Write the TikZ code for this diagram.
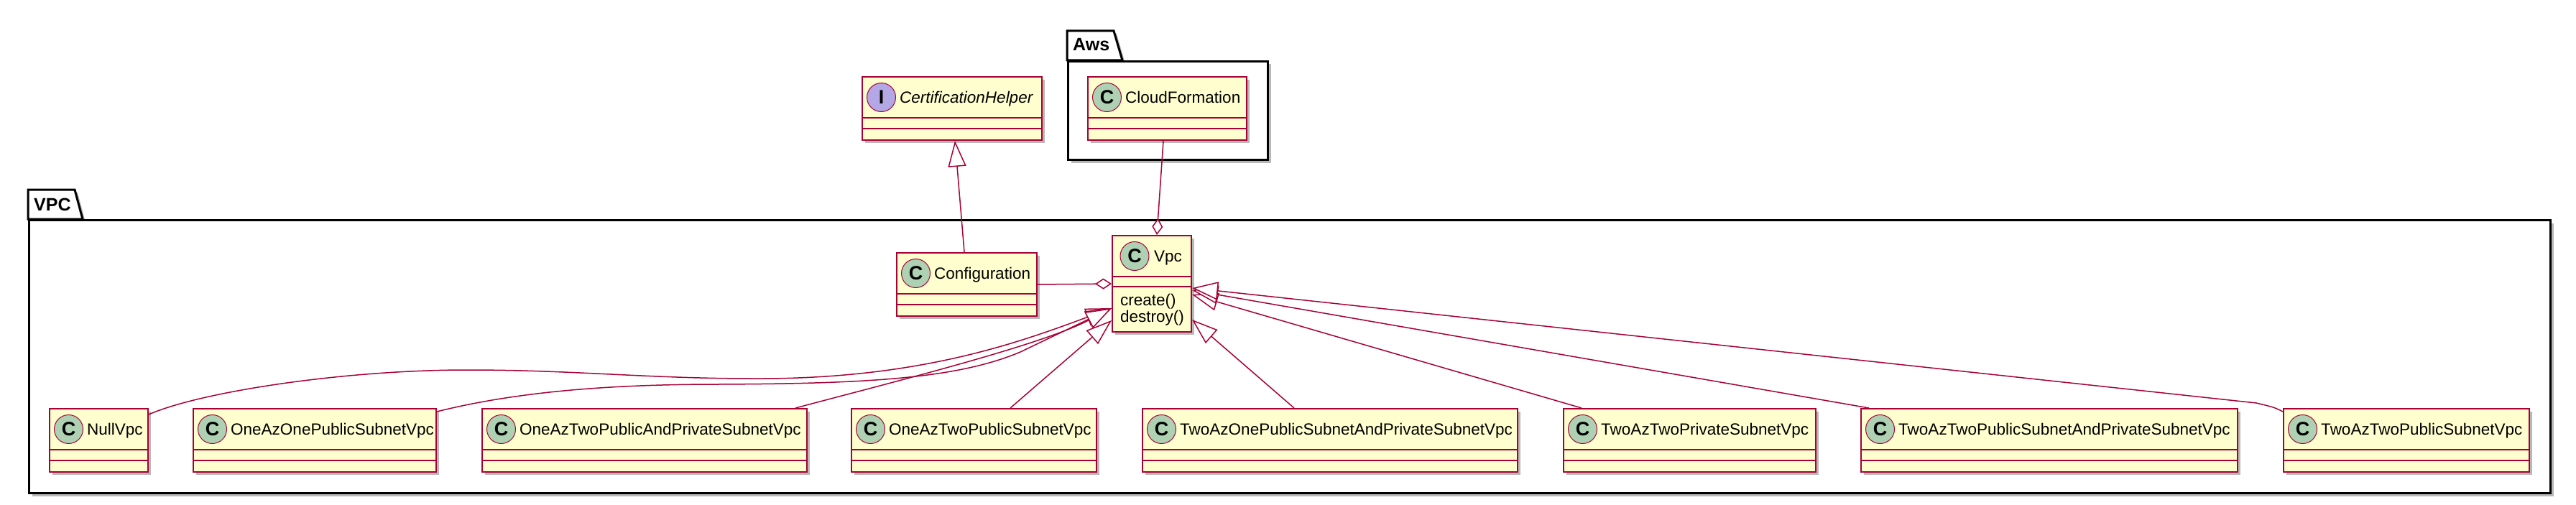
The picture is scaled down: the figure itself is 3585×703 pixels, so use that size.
\documentclass[tikz,border=0pt]{standalone}
\usepackage{fontspec}
\setmainfont{Liberation Sans}
\usetikzlibrary{arrows.meta,shadows}
\definecolor{umlred}{HTML}{A80036}
\definecolor{umlfill}{HTML}{FEFECE}
\definecolor{circC}{HTML}{ADD1B2}
\definecolor{circI}{HTML}{B4A7E5}
\tikzset{
 shad/.style={drop shadow={shadow xshift=4bp, shadow yshift=-4bp, fill=black, opacity=0.28}},
 classbox/.style={rectangle, draw=umlred, fill=umlfill, line width=2bp, inner sep=0, shad},
 divider/.style={draw=umlred, line width=2bp},
 circ/.style={circle, draw=umlred, line width=1bp, minimum size=40bp, inner sep=0, font=\fontsize{27bp}{27bp}\selectfont\bfseries},
 ctext/.style={inner sep=0, font=\fontsize{22.5bp}{27bp}\selectfont},
 pkgframe/.style={draw=black, fill=white, line width=3bp, line join=miter, shad},
 pkgtitle/.style={inner sep=0, font=\fontsize{25bp}{30bp}\selectfont\bfseries},
 gen/.style={draw=umlred, line width=1.5bp, -{Triangle[length=36bp,width=25bp,fill=white]}},
 agg/.style={draw=umlred, line width=1.5bp, -{Diamond[length=23bp,width=15bp,fill=white]}},
}
% #1 name, #2 left, #3 top, #4 width, #5 letter, #6 circle colour, #7 text
\newcommand\umlclass[7]{%
 \node[classbox, minimum width=#4bp, minimum height=88bp, anchor=north west] (#1) at (#2,#3) {};
 \draw[divider] ([yshift=-58bp]#1.north west) -- ([yshift=-58bp]#1.north east);
 \draw[divider] ([yshift=-73bp]#1.north west) -- ([yshift=-73bp]#1.north east);
 \node[circ, fill=#6] (#1-c) at ([xshift=27.5bp,yshift=-29.5bp]#1.north west) {#5};
 \node[ctext, anchor=base west] (#1-t) at ([xshift=53bp,yshift=-37.5bp]#1.north west) {#7};
}
\begin{document}
\begin{tikzpicture}[x=1bp,y=-1bp]
\useasboundingbox (0,0) rectangle (3585,703);
\fill[white] (0,0) rectangle (3585,703);

% packages
\path[pkgframe] (39,305) -- (39,264) -- (104,264) -- (115,305) -- cycle;
\node[pkgframe, rectangle, inner sep=0, minimum width=3509bp, minimum height=380bp, anchor=north west] (vpcpkg) at (39,305) {};
\node[pkgtitle, anchor=base west] (vpcpkg-t) at (47,293) {VPC};

\path[pkgframe] (1485,84) -- (1485,43) -- (1550,43) -- (1562,84) -- cycle;
\node[pkgframe, rectangle, inner sep=0, minimum width=278bp, minimum height=137bp, anchor=north west] (awspkg) at (1485,84) {};
\node[pkgtitle, anchor=base west] (awspkg-t) at (1493,71) {Aws};

% classes
\umlclass{cert}{1199}{106}{250}{I}{circI}{\itshape CertificationHelper}
\umlclass{cloud}{1513}{106}{221}{C}{circC}{CloudFormation}
\umlclass{config}{1247}{351}{195}{C}{circC}{Configuration}

\node[classbox, minimum width=110bp, minimum height=134bp, anchor=north west] (vpc) at (1547,327) {};
\draw[divider] ([yshift=-58bp]vpc.north west) -- ([yshift=-58bp]vpc.north east);
\draw[divider] ([yshift=-72bp]vpc.north west) -- ([yshift=-72bp]vpc.north east);
\node[circ, fill=circC] (vpc-c) at ([xshift=32bp,yshift=-29.5bp]vpc.north west) {C};
\node[ctext, anchor=base west] (vpc-t) at ([xshift=59bp,yshift=-37.5bp]vpc.north west) {Vpc};
\node[ctext, anchor=base west] (vpc-m1) at ([xshift=12bp,yshift=-98.5bp]vpc.north west) {create()};
\node[ctext, anchor=base west] (vpc-m2) at ([xshift=12bp,yshift=-121.5bp]vpc.north west) {destroy()};

\umlclass{nullvpc}{68}{568}{137}{C}{circC}{NullVpc}
\umlclass{oazop}{268}{568}{338}{C}{circC}{OneAzOnePublicSubnetVpc}
\umlclass{oaztpap}{670}{568}{452}{C}{circC}{OneAzTwoPublicAndPrivateSubnetVpc}
\umlclass{oaztp}{1184}{568}{341}{C}{circC}{OneAzTwoPublicSubnetVpc}
\umlclass{tazop}{1589}{568}{522}{C}{circC}{TwoAzOnePublicSubnetAndPrivateSubnetVpc}
\umlclass{tatpriv}{2175}{568}{351}{C}{circC}{TwoAzTwoPrivateSubnetVpc}
\umlclass{tatpsap}{2589}{568}{524}{C}{circC}{TwoAzTwoPublicSubnetAndPrivateSubnetVpc}
\umlclass{tatp}{3177}{568}{342}{C}{circC}{TwoAzTwoPublicSubnetVpc}

% connectors
\draw[gen] ([xshift=-3.5bp]config.north) -- ([xshift=4bp]cert.south);
\draw[agg] ([xshift=-5.5bp]cloud.south) -- ([xshift=7bp]vpc.north);
\draw[agg] (config.east) -- (vpc.west);

\draw[gen] ([yshift=-9bp]nullvpc.north east) .. controls (280,545) and (480,515) .. (650,515)
  .. controls (800,515) and (900,527) .. (1050,527)
  .. controls (1280,528) and (1420,476) .. ([yshift=-34bp]vpc.west);
\draw[gen] ([yshift=-5bp]oazop.north east) .. controls (720,545) and (850,535) .. (1000,535)
  .. controls (1200,534) and (1330,528) .. (1420,490)
  .. controls (1470,466) .. ([yshift=-34bp]vpc.west);
\draw[gen] ([xshift=-17bp]oaztpap.north east) .. controls (1250,530) and (1450,480) .. ([yshift=-34bp]vpc.west);
\draw[gen] ([xshift=-121bp]oaztp.north east) -- ([yshift=-51bp]vpc.west);

\draw[gen] ([xshift=212bp]tazop.north west) -- ([yshift=-50bp]vpc.east);
\draw[gen] ([xshift=26bp]tatpriv.north west) -- ([yshift=-15bp]vpc.east);
\draw[gen] ([xshift=12bp]tatpsap.north west) -- ([yshift=-9bp]vpc.east);
\draw[gen] ([yshift=-5bp]tatp.north west) .. controls (3165,567) .. (3140,561) -- ([yshift=-6bp]vpc.east);
\end{tikzpicture}
\end{document}
